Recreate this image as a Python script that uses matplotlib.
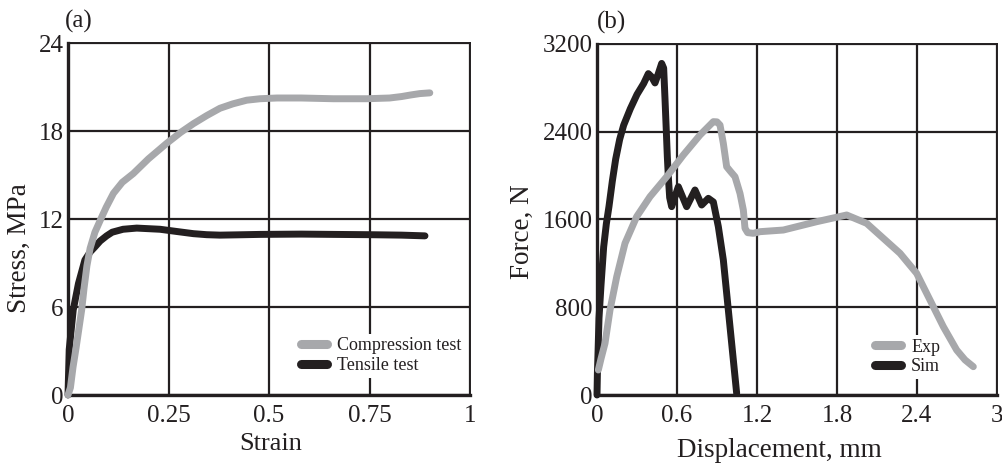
import matplotlib
matplotlib.use('Agg')
import matplotlib.pyplot as plt
from matplotlib.lines import Line2D

plt.rcParams['font.family'] = ['Liberation Serif', 'DejaVu Serif']

# ---------------- data (a) ----------------
comp_strain = [0.0, 0.006, 0.0125, 0.02, 0.027, 0.034, 0.04, 0.047, 0.055, 0.067, 0.08,
               0.095, 0.113, 0.135, 0.1625, 0.2, 0.2455, 0.28, 0.312, 0.345, 0.378, 0.41,
               0.4445, 0.478, 0.52, 0.58, 0.66, 0.743, 0.80, 0.83, 0.851, 0.875, 0.90]
comp_stress = [0.0, 0.5, 1.9, 3.2, 4.5, 5.8, 7.3, 8.8, 10.0, 11.1, 11.9,
               12.8, 13.75, 14.5, 15.1, 16.1, 17.16, 17.9, 18.5, 19.05, 19.55, 19.85,
               20.1, 20.2, 20.25, 20.25, 20.2, 20.2, 20.25, 20.35, 20.45, 20.55, 20.6]

tens_strain = [0.0, 0.003, 0.013, 0.026, 0.042, 0.055, 0.067, 0.08, 0.096, 0.11, 0.137,
               0.171, 0.229, 0.27, 0.312, 0.345, 0.378, 0.42, 0.4776, 0.58, 0.66, 0.75,
               0.83, 0.888]
tens_stress = [0.0, 3.1, 5.8, 7.6, 9.2, 9.75, 10.1, 10.5, 10.85, 11.1, 11.3,
               11.38, 11.3, 11.15, 11.0, 10.93, 10.9, 10.92, 10.95, 10.97, 10.95, 10.93,
               10.9, 10.85]

# ---------------- data (b) ----------------
exp_disp = [0.01, 0.03, 0.06, 0.0975, 0.148, 0.21, 0.2975, 0.3975, 0.5225, 0.6475,
            0.7725, 0.8725, 0.9, 0.9225, 0.9475, 0.9725, 1.0, 1.035, 1.0725, 1.0975,
            1.11, 1.13, 1.1725, 1.2225, 1.3975, 1.6475, 1.8725, 2.0225, 2.2725, 2.3975,
            2.4975, 2.5975, 2.6975, 2.76, 2.8225]
exp_force = [228, 330, 471, 775, 1079, 1383, 1626, 1808, 1990, 2188,
             2370, 2492, 2490, 2461, 2294, 2081, 2040, 1990, 1838, 1687,
             1520, 1480, 1474, 1489, 1504, 1580, 1641, 1565, 1292, 1109,
             866, 623, 410, 320, 258]

sim_disp = [0.0, 0.003, 0.008, 0.015, 0.03, 0.05, 0.07, 0.09, 0.115, 0.14, 0.17,
            0.2, 0.25, 0.3, 0.35, 0.385, 0.41, 0.435, 0.46, 0.485, 0.5, 0.51, 0.52,
            0.5275, 0.535, 0.545, 0.56, 0.61, 0.6725, 0.735, 0.785, 0.835, 0.8725,
            0.91, 0.9475, 0.9725, 0.9975, 1.0225, 1.0475]
sim_force = [0, 200, 400, 700, 1000, 1350, 1560, 1720, 1950, 2150, 2330,
             2460, 2610, 2740, 2840, 2930, 2900, 2845, 2930, 3023, 2980, 2700, 2400,
             2172, 1990, 1800, 1717, 1899, 1717, 1869, 1732, 1793, 1760,
             1535, 1231, 927, 623, 319, 15]

GRAY = '#a7a8ab'
BLACK = '#231f20'
TXT = '#231f20'

fig = plt.figure(figsize=(10.02, 4.65), dpi=100)
axa = fig.add_axes([68/1002, 1-395/465, 402/1002, 352/465])
axb = fig.add_axes([597/1002, 1-395/465, 400/1002, 351/465])


def style(ax):
    ax.grid(True, color=BLACK, linewidth=1.6)
    ax.set_axisbelow(True)
    ax.tick_params(length=0, labelsize=18, labelcolor=TXT)
    ax.tick_params(axis='x', pad=7)
    ax.tick_params(axis='y', pad=3)
    for s in ['left', 'bottom']:
        ax.spines[s].set_linewidth(2.4)
        ax.spines[s].set_color(BLACK)
    for s in ['top', 'right']:
        ax.spines[s].set_linewidth(1.4)
        ax.spines[s].set_color(BLACK)


# panel (a)
style(axa)
axa.plot(tens_strain, tens_stress, color=BLACK, lw=5, solid_capstyle='round',
         solid_joinstyle='round', clip_on=False, zorder=3)
axa.plot(comp_strain, comp_stress, color=GRAY, lw=5, solid_capstyle='round',
         solid_joinstyle='round', clip_on=False, zorder=4)
axa.set_xlim(0, 1)
axa.set_ylim(0, 24)
axa.set_xticks([0, 0.25, 0.5, 0.75, 1])
axa.set_xticklabels(['0', '0.25', '0.5', '0.75', '1'])
axa.set_yticks([0, 6, 12, 18, 24])
axa.set_xlabel('Strain', fontsize=19, color=TXT)
axa.set_ylabel('Stress, MPa', fontsize=19.5, color=TXT)
axa.xaxis.set_label_coords(0.505, -0.108)
axa.xaxis.label.set_va('top')
axa.yaxis.set_label_coords(-0.0896, 0.418)

ha = [Line2D([], [], color=GRAY, lw=6.5, solid_capstyle='round'),
      Line2D([], [], color=BLACK, lw=6.5, solid_capstyle='round')]
lga = axa.legend(ha, ['Compression test', 'Tensile test'], loc='center left',
                 bbox_to_anchor=(0.570, 0.112), fontsize=13, frameon=True,
                 facecolor='white', edgecolor='none', framealpha=1, fancybox=False,
                 borderpad=0.2, borderaxespad=0, handlelength=1.45, handletextpad=0.55,
                 labelspacing=0.15, labelcolor=TXT)
lga.set_zorder(5)

# panel (b)
style(axb)
axb.plot(sim_disp, sim_force, color=BLACK, lw=5, solid_capstyle='round',
         solid_joinstyle='round', clip_on=False, zorder=3)
axb.plot(exp_disp, exp_force, color=GRAY, lw=5, solid_capstyle='round',
         solid_joinstyle='round', clip_on=False, zorder=4)
axb.set_xlim(0, 3)
axb.set_ylim(0, 3200)
axb.set_xticks([0, 0.6, 1.2, 1.8, 2.4, 3])
axb.set_xticklabels(['0', '0.6', '1.2', '1.8', '2.4', '3'])
axb.set_yticks([0, 800, 1600, 2400, 3200])
axb.set_xlabel('Displacement, mm', fontsize=19.5, color=TXT)
axb.set_ylabel('Force, N', fontsize=19.5, color=TXT)
axb.xaxis.set_label_coords(0.455, -0.122)
axb.xaxis.label.set_va('top')
axb.yaxis.set_label_coords(-0.155, 0.464)

hb = [Line2D([], [], color=GRAY, lw=6.5, solid_capstyle='round'),
      Line2D([], [], color=BLACK, lw=6.5, solid_capstyle='round')]
lgb = axb.legend(hb, ['Exp', 'Sim'], loc='center left',
                 bbox_to_anchor=(0.686, 0.108), fontsize=13, frameon=True,
                 facecolor='white', edgecolor='none', framealpha=1, fancybox=False,
                 borderpad=0.2, borderaxespad=0, handlelength=1.45, handletextpad=0.55,
                 labelspacing=0.15, labelcolor=TXT)
lgb.set_zorder(5)

fig.text(79/1002, 1-21/465, '(a)', fontsize=18, color=TXT, ha='center', va='center')
fig.text(611/1002, 1-22/465, '(b)', fontsize=18, color=TXT, ha='center', va='center')

fig.savefig('out.png', dpi=100)
